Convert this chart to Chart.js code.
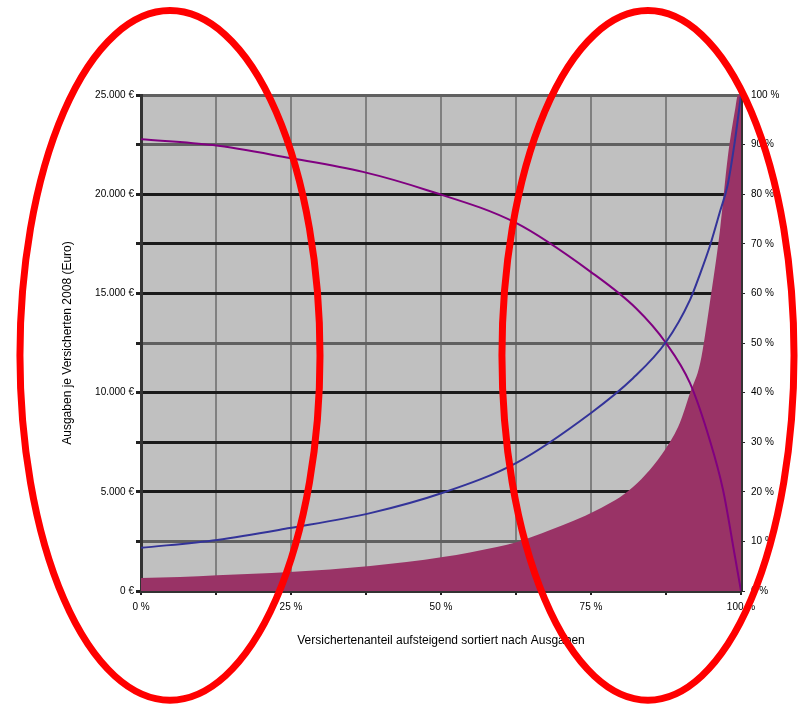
<!DOCTYPE html>
<html lang="de">
<head>
<meta charset="UTF-8">
<title>Ausgaben je Versicherten</title>
<script src="https://cdn.jsdelivr.net/npm/chart.js"></script>
<style>
  html, body { margin: 0; padding: 0; background: #fff; }
  #wrap { width: 798px; height: 708px; }
</style>
</head>
<body>
<div id="wrap"><canvas id="chart"></canvas></div>
<script>
// share of insured persons (x, %), sorted by expenditure
var fillX = [0, 6.5, 12.7, 24.8, 38.2, 50.3, 59.3, 62.7, 68.2, 76, 82, 87.5, 89.8, 91.5, 93.2, 94.8, 96.5, 97.8, 99, 99.5, 100];
// expenditure per insured person (left axis, Euro)
var fillY = [655, 705, 800, 960, 1260, 1710, 2220, 2470, 3070, 4080, 5240, 7200, 8470, 9980, 11490, 14520, 18200, 21870, 24240, 25000, 25000];

// cumulative share of expenditure (right axis, %)
var blueX = [0, 12.7, 24.8, 38.2, 50.3, 62.5, 75, 82, 87.5, 91.5, 93.2, 94.8, 96.5, 97.8, 99, 100];
var blueY = [8.7, 10.3, 12.7, 15.7, 19.8, 25.8, 35.9, 42.9, 50.2, 58.7, 64, 69.5, 76.5, 82, 90.9, 100];

// remaining share (right axis, %)
var purpleX = [0, 12, 24.8, 37, 47.7, 62.5, 75, 82.5, 87.5, 91.5, 94.8, 97, 99, 100];
var purpleY = [91.1, 89.9, 87.3, 84.5, 80.8, 74.2, 64.3, 57, 50, 41.9, 30.4, 20.4, 6.9, 0];

var leftTicks = [0, 5000, 10000, 15000, 20000, 25000];
var bottomTicks = [0, 25, 50, 75, 100];

function pts(xs, ys) {
  return xs.map(function (x, i) { return { x: x, y: ys[i] }; });
}

// grid colours per left-axis tick (0 .. 25000 step 2500)
var gridCols = ['#1a1a1a', '#606060', '#1a1a1a', '#1a1a1a', '#1a1a1a', '#606060',
                '#1a1a1a', '#1a1a1a', '#1a1a1a', '#606060', '#606060'];

var font = { family: 'Liberation Sans', size: 10 };
var titleFont = { family: 'Liberation Sans', size: 12 };

// plot background + red ellipses drawn over the chart
var bgPlugin = {
  id: 'plotBg',
  beforeDraw: function (chart) {
    var a = chart.chartArea, c = chart.ctx;
    c.save();
    c.fillStyle = '#c0c0c0';
    c.fillRect(a.left, a.top, a.right - a.left, a.bottom - a.top);
    c.restore();
  },
  afterDraw: function (chart) {
    var c = chart.ctx, w = chart.width, h = chart.height;
    c.save();
    c.strokeStyle = '#ff0000';
    c.lineWidth = 7;
    c.beginPath();
    c.ellipse(w * 0.213, h * 0.502, w * 0.188, h * 0.487, 0, 0, Math.PI * 2);
    c.stroke();
    c.beginPath();
    c.ellipse(w * 0.812, h * 0.502, w * 0.183, h * 0.487, 0, 0, Math.PI * 2);
    c.stroke();
    c.restore();
  }
};

new Chart(document.getElementById('chart'), {
  type: 'line',
  data: {
    datasets: [
      {
        label: 'Ausgaben',
        data: pts(fillX, fillY),
        yAxisID: 'y',
        order: 3,
        fill: 'origin',
        backgroundColor: '#993366',
        borderColor: '#993366',
        borderWidth: 0,
        pointRadius: 0,
        cubicInterpolationMode: 'monotone'
      },
      {
        label: 'Anteil',
        data: pts(blueX, blueY),
        yAxisID: 'y2',
        order: 1,
        fill: false,
        borderColor: '#333399',
        borderWidth: 2,
        pointRadius: 0,
        cubicInterpolationMode: 'monotone'
      },
      {
        label: 'Rest',
        data: pts(purpleX, purpleY),
        yAxisID: 'y2',
        order: 2,
        fill: false,
        borderColor: '#800080',
        borderWidth: 2,
        pointRadius: 0,
        cubicInterpolationMode: 'monotone'
      }
    ]
  },
  options: {
    responsive: true,
    maintainAspectRatio: false,
    animation: false,
    layout: { padding: { top: 95, left: 60, right: 0, bottom: 60 } },
    plugins: { legend: { display: false }, tooltip: { enabled: false } },
    scales: {
      x: {
        type: 'linear',
        min: 0, max: 100,
        afterFit: function (s) { s.height = 57; },
        ticks: {
          stepSize: 12.5,
          font: font, color: '#000', maxRotation: 0, padding: 6,
          callback: function (v) { return bottomTicks.indexOf(v) >= 0 ? v + ' %' : ''; }
        },
        grid: { color: '#808080', lineWidth: 2, tickLength: 4, tickColor: '#222' },
        border: { color: '#333', width: 3 },
        title: {
          display: true,
          text: 'Versichertenanteil aufsteigend sortiert nach Ausgaben',
          font: titleFont, color: '#000', padding: { top: 0, bottom: 0 }
        }
      },
      y: {
        position: 'left',
        min: 0, max: 25000,
        afterFit: function (s) { s.width = 81; },
        ticks: {
          stepSize: 2500,
          font: font, color: '#000', padding: 2,
          callback: function (v) {
            return leftTicks.indexOf(v) >= 0 ? (v === 0 ? '0 €' : v.toLocaleString('de-DE') + ' €') : '';
          }
        },
        grid: {
          color: function (ctx) { return gridCols[ctx.index] || '#1a1a1a'; },
          lineWidth: 3, tickLength: 5, tickColor: '#222'
        },
        border: { color: '#333', width: 3 },
        title: {
          display: true,
          text: 'Ausgaben je Versicherten 2008 (Euro)',
          font: titleFont, color: '#000', padding: { top: 0, bottom: 0 }
        }
      },
      y2: {
        position: 'right',
        min: 0, max: 100,
        afterFit: function (s) { s.width = 57; },
        ticks: {
          stepSize: 10,
          font: font, color: '#000', padding: 6,
          callback: function (v) { return v + ' %'; }
        },
        grid: { drawOnChartArea: false, tickLength: 4, tickColor: '#222' },
        border: { color: '#333', width: 3 }
      }
    }
  },
  plugins: [bgPlugin]
});
</script>
</body>
</html>
